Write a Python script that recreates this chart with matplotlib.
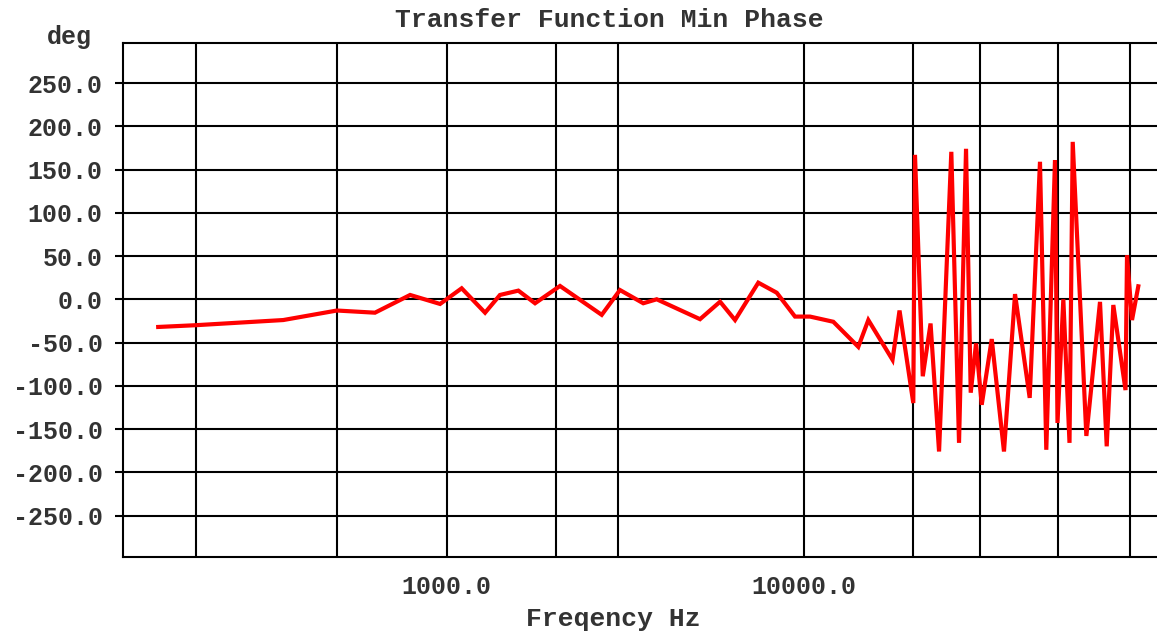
import matplotlib
matplotlib.use("Agg")
import matplotlib.pyplot as plt

# phase response (Hz, degrees)
freq_hz = [156, 198, 349, 493, 630, 790, 958, 1101, 1280, 1409, 1586, 1766,
           2074, 2713, 3051, 3545, 3866, 5109, 5814, 6402, 7436, 8372, 9419,
           10375, 12054, 14158, 15101, 17648, 18462, 20173, 20393, 21442,
           22545, 23812, 25770, 27080, 28330, 29200, 30217, 31342, 33430,
           36172, 38838, 42687, 45612, 47500, 50234, 51050, 53010, 55160,
           56310, 61480, 67130, 70090, 73140, 79110, 79880, 82490, 85900]
phase_deg = [-32, -30, -24, -13, -15.5, 5, -5.4, 12.7, -15.5, 5, 10, -4.6,
             15.4, -18, 10.7, -4.6, 0, -23, -2.8, -24, 19.2, 7.6, -20,
             -20, -26, -55, -24, -70, -13, -120, 167, -89,
             -28, -176, 170.5, -166, 174, -108, -51, -122, -46,
             -176, 6, -114, 159, -174, 161, -143, 0, -166,
             182, -158, -3, -170, -6.6, -105, 51, -24, 15]

# vertical grid positions and labelled ticks
grid_freqs = [199, 494, 1000, 2017, 3006, 10000, 20180, 31000, 51300, 81400]
x_labels = {1000: "1000.0", 10000: "10000.0"}
y_ticks = [250, 200, 150, 100, 50, 0, -50, -100, -150, -200, -250]

txt_color = "#333333"
mono = ["Liberation Mono", "DejaVu Sans Mono"]

fig = plt.figure(figsize=(11.57, 6.35), dpi=100)
ax = fig.add_axes([0.1066, 0.1228, 0.8934, 0.8100])

ax.plot(freq_hz, phase_deg, color="#ff0000", linewidth=3.0, zorder=3,
        solid_joinstyle="miter")

ax.set_xscale("log")
ax.set_xlim(10 ** (3 - (446.7 - 123.3) / 357.6), 10 ** (3 + (1157 - 446.7) / 357.6))
ax.set_ylim(-298, 296.7)

ax.set_xticks(grid_freqs)
ax.set_xticklabels([x_labels.get(f, "") for f in grid_freqs])
ax.xaxis.set_minor_locator(matplotlib.ticker.NullLocator())
ax.set_yticks(y_ticks)
ax.set_yticklabels([f"{v:.1f}" for v in y_ticks])

ax.grid(True, color="black", linewidth=1.5)
ax.tick_params(axis="x", length=0, pad=13, labelsize=18, labelcolor=txt_color)
ax.tick_params(axis="y", length=6, width=1.5, pad=9, labelsize=18,
               labelcolor=txt_color)
for lbl in ax.get_xticklabels() + ax.get_yticklabels():
    lbl.set_family(mono)
    lbl.set_weight("bold")

for side in ["left", "top", "bottom"]:
    ax.spines[side].set_linewidth(1.5)
    ax.spines[side].set_color("black")
ax.spines["right"].set_visible(False)

fig.text(609 / 1157, 1 - 27 / 635, "Transfer Function Min Phase", ha="center",
         va="baseline", fontsize=19, family=mono, weight="bold", color=txt_color)
fig.text(613 / 1157, 1 - 626 / 635, "Freqency Hz", ha="center", va="baseline",
         fontsize=19, family=mono, weight="bold", color=txt_color)
fig.text(69 / 1157, 1 - 44 / 635, "deg", ha="center", va="baseline",
         fontsize=18, family=mono, weight="bold", color=txt_color)

fig.savefig("out.png", dpi=100)
plt.close(fig)
